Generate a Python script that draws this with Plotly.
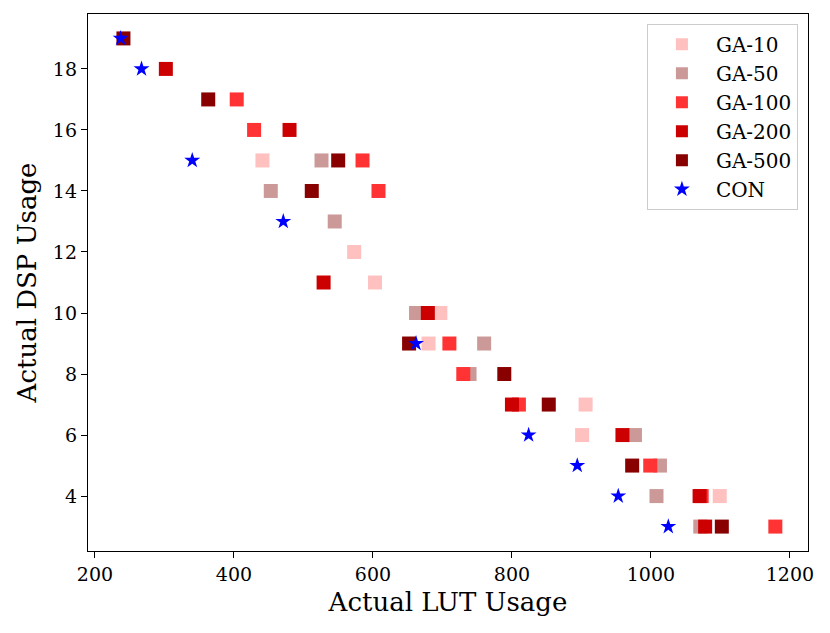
import plotly.graph_objects as go

# ---- data ----
ga10_lut = [441, 573, 603, 697, 680, 906, 901, 1099]
ga10_dsp = [15, 12, 11, 10, 9, 7, 6, 4]

ga50_lut = [526, 453, 545, 662, 760, 739, 977, 1013, 1008, 1071]
ga50_dsp = [15, 14, 13, 10, 9, 8, 6, 5, 4, 3]

ga100_lut = [404, 429, 585, 608, 710, 730, 810, 999, 1073, 1179]
ga100_dsp = [17, 16, 15, 14, 9, 8, 7, 5, 4, 3]

ga200_lut = [302, 480, 529, 679, 800, 959, 1070, 1078]
ga200_dsp = [18, 16, 11, 10, 7, 6, 4, 3]

ga500_lut = [241, 363, 550, 512, 652, 789, 853, 973, 1102]
ga500_dsp = [19, 17, 15, 14, 9, 8, 7, 5, 3]

con_lut = [237, 267, 340, 471, 662, 824, 894, 953, 1025]
con_dsp = [19, 18, 15, 13, 9, 6, 5, 4, 3]

series_names = ["GA-10", "GA-50", "GA-100", "GA-200", "GA-500", "CON"]
series_colors = ["#FFC0C0", "#CC9999", "#FF3333", "#CC0000", "#880000", "#0000FF"]
series_symbols = ["square", "square", "square", "square", "square", "star"]

xs = [ga10_lut, ga50_lut, ga100_lut, ga200_lut, ga500_lut, con_lut]
ys = [ga10_dsp, ga50_dsp, ga100_dsp, ga200_dsp, ga500_dsp, con_dsp]

FONT = "DejaVu Serif"

fig = go.Figure()
for name, color, sym, x, y in zip(series_names, series_colors, series_symbols, xs, ys):
    fig.add_trace(go.Scatter(
        x=x, y=y, mode="markers", name=name,
        marker=dict(symbol=sym, color=color, size=14 if sym == "square" else 12,
                    line=dict(width=0)),
    ))

axis_common = dict(
    showline=True, linecolor="black", linewidth=1.4, mirror=True,
    ticks="outside", ticklen=6, tickwidth=1.4, tickcolor="black",
    showgrid=False, zeroline=False,
    tickfont=dict(family=FONT, size=19, color="black"),
)

fig.update_layout(
    width=830, height=633,
    margin=dict(l=80, r=30, t=6, b=90),
    paper_bgcolor="white", plot_bgcolor="white",
    font=dict(family=FONT, color="black"),
    xaxis=dict(range=[190, 1226], tickvals=[200, 400, 600, 800, 1000, 1200],
               title=dict(text="Actual LUT Usage", font=dict(family=FONT, size=26), standoff=8),
               **axis_common),
    yaxis=dict(range=[2.2, 19.8], tickvals=[4, 6, 8, 10, 12, 14, 16, 18],
               title=dict(text="Actual DSP Usage", font=dict(family=FONT, size=26), standoff=8),
               **axis_common),
    legend=dict(x=0.986, y=0.982, xanchor="right", yanchor="top",
                bgcolor="rgba(255,255,255,0.8)", bordercolor="#CCCCCC", borderwidth=1,
                font=dict(family=FONT, size=20, color="black"), itemsizing="constant",
                itemwidth=58),
    showlegend=True,
)

fig.write_html("out.html")
